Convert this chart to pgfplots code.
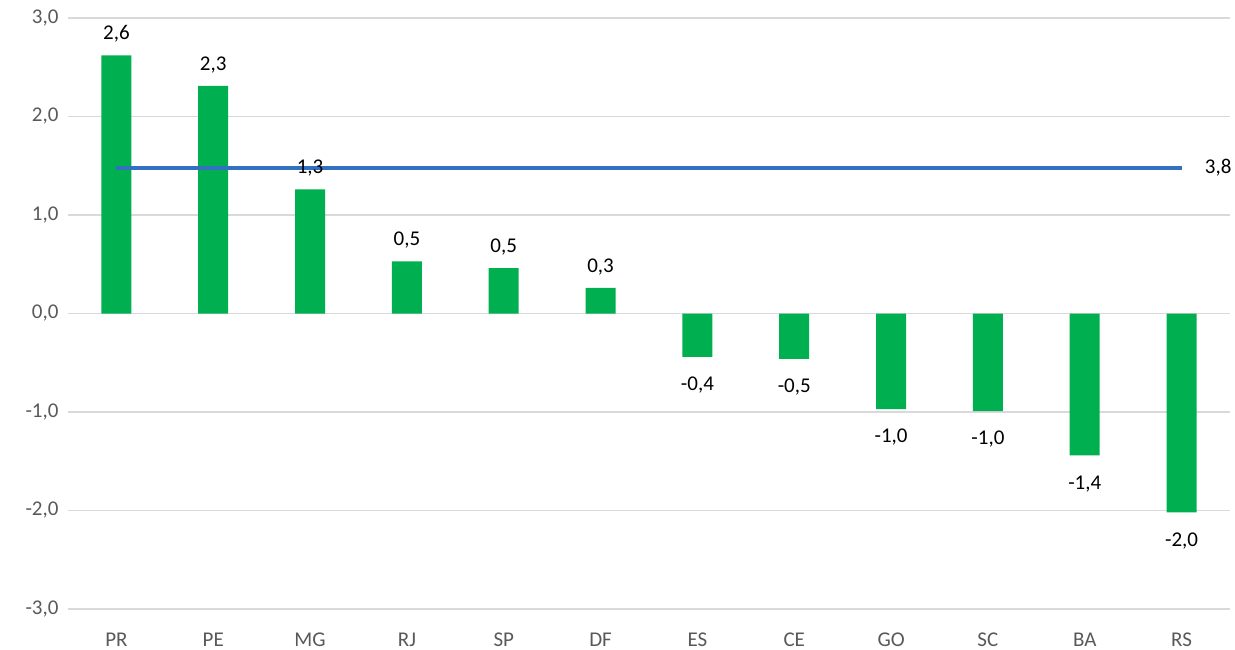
\documentclass[border=0pt]{standalone}
\usepackage{pgfplots}
\pgfplotsset{compat=1.18}
\usepackage{fontspec}
\setmainfont{Carlito}
\definecolor{barg}{HTML}{00B050}
\definecolor{lineb}{HTML}{3470C0}
\definecolor{gridg}{HTML}{D9D9D9}
\definecolor{tickg}{HTML}{595959}
\begin{document}
\begin{tikzpicture}[x=1pt,y=1pt]
\begin{axis}[
  at={(0,0)}, anchor=south west,
  scale only axis, width=1162pt, height=591pt,
  xmin=-0.5, xmax=11.5, ymin=-3, ymax=3,
  axis line style={draw=none},
  tick style={draw=none},
  ymajorgrids, grid style={gridg, line width=1.3pt},
  ytick={-3,-2,...,3},
  yticklabel style={text=tickg, font=\fontsize{21}{24}\selectfont, xshift=-6pt},
  yticklabel={\pgfmathprintnumber[fixed,fixed zerofill,precision=1,use comma]{\tick}},
  /pgf/number format/assume math mode=true,
  xtick={0,...,11},
  xticklabels={PR,PE,MG,RJ,SP,DF,ES,CE,GO,SC,BA,RS},
  xticklabel style={text=tickg, font=\fontsize{21}{24}\selectfont, yshift=-20pt},
  clip=false,
]
\addplot[ybar, bar width=30pt, bar shift=0pt, fill=barg, draw=none,
  point meta=explicit symbolic,
  nodes near coords,
  every node near coord/.append style={font=\fontsize{21}{24}\selectfont, text=black, anchor=south, inner sep=0pt, yshift=13pt}]
coordinates {
(0,2.62) [2,6]
(1,2.31) [2,3]
(2,1.26) [1,3]
(3,0.53) [0,5]
(4,0.46) [0,5]
(5,0.26) [0,3]
};
\addplot[ybar, bar width=30pt, bar shift=0pt, fill=barg, draw=none,
  point meta=explicit symbolic,
  nodes near coords,
  every node near coord/.append style={font=\fontsize{21}{24}\selectfont, text=black, anchor=north, inner sep=0pt, yshift=-20pt}]
coordinates {
(6,-0.44) [-0,4]
(7,-0.46) [-0,5]
(8,-0.97) [-1,0]
(9,-0.99) [-1,0]
(10,-1.44) [-1,4]
(11,-2.02) [-2,0]
};
\addplot[lineb, line width=4pt, mark=none]
coordinates {(0,1.48) (11,1.48)}
node[pos=1, anchor=west, xshift=18pt, text=black, font=\fontsize{21}{24}\selectfont] {3,8};
\end{axis}
\pgfresetboundingbox
\path[use as bounding box] (-68,-40) rectangle (1167,609);
\end{tikzpicture}
\end{document}
